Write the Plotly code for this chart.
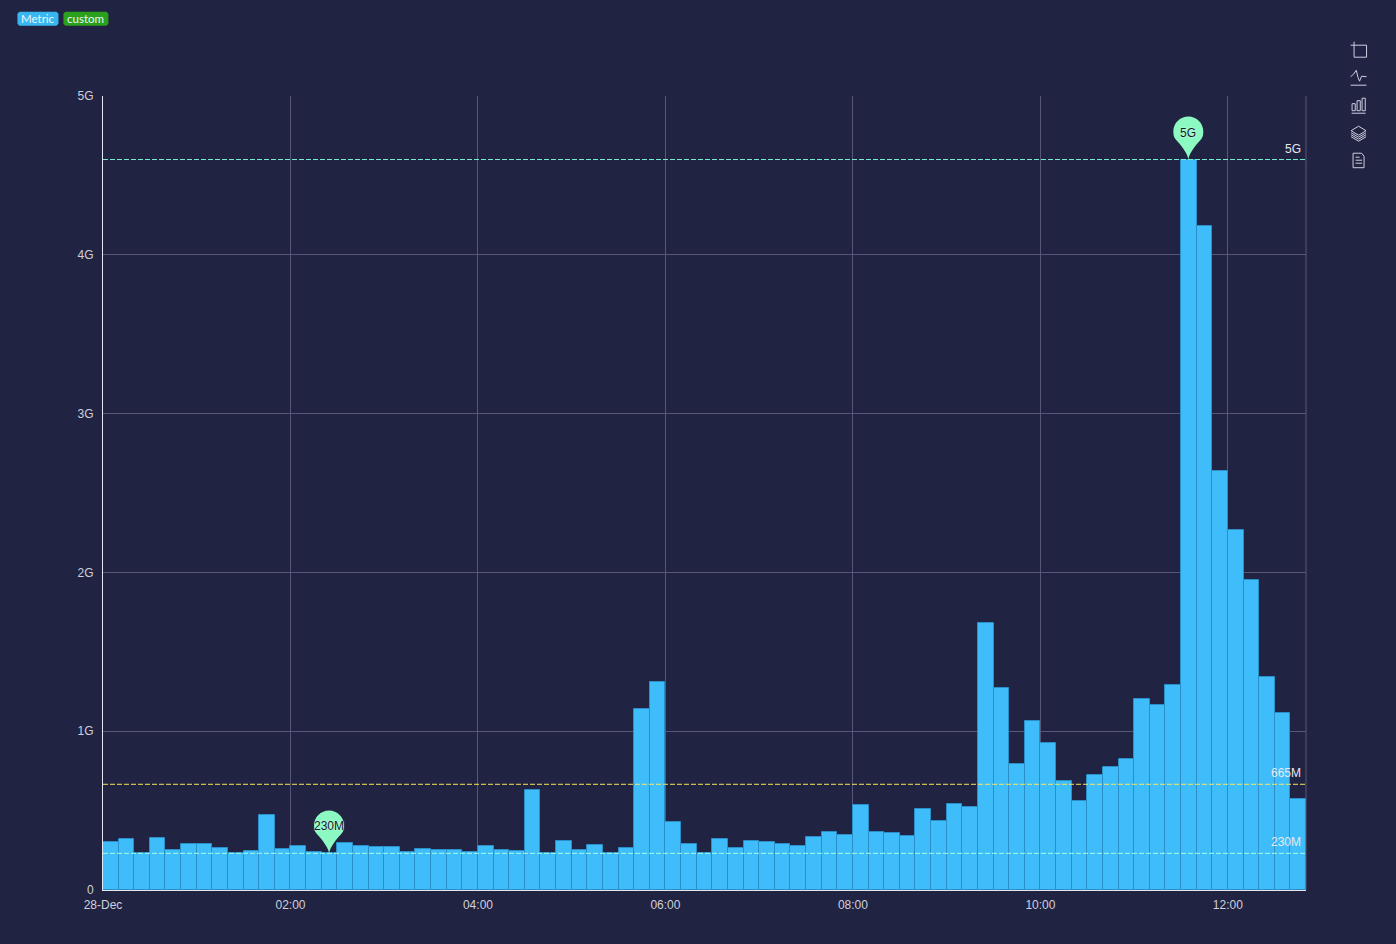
import re
import pandas as pd
import plotly.graph_objects as go

W, H = 1396, 944
L, R, T, B = 102.6, 1306.4, 96.3, 890.2

times = pd.date_range("2023-12-28 00:00", periods=77, freq="10min")
values_m = [
    300, 319, 230.5, 330, 252, 292, 290, 262, 230.5, 248, 470, 258, 275, 239, 230, 298, 275, 271, 271, 242,
    261, 252, 252, 237, 275, 250, 244, 628, 230.5, 311, 254, 283, 235, 262, 1140, 1310, 431, 290, 230.5, 319,
    262, 311, 300, 292, 275, 336, 363, 344, 534, 365, 359, 340, 512, 437, 541, 521, 1679, 1269, 795, 1067,
    927, 685, 562, 726, 776, 826, 1204, 1166, 1292, 4600, 4182, 2638, 2267, 1952, 1340, 1113, 570,
]
y_tick_vals = [0, 1000, 2000, 3000, 4000, 5000]
y_tick_text = ["0", "1G", "2G", "3G", "4G", "5G"]
x_tick_vals = ["2023-12-28 00:00", "2023-12-28 02:00", "2023-12-28 04:00", "2023-12-28 06:00",
               "2023-12-28 08:00", "2023-12-28 10:00", "2023-12-28 12:00"]
x_tick_text = ["28-Dec", "02:00", "04:00", "06:00", "08:00", "10:00", "12:00"]
ref_values = [4600, 665.7, 231]
ref_labels = ["5G", "665M", "230M"]
ref_colors = ["#72f2d2", "#f6e65c", "#a6ffdc"]
tags = ["Metric", "custom"]

BG = "#212342"
GRID = "#56577a"
TEXT = "#cfd0dc"
FONT = "Liberation Sans, Arial, sans-serif"
PIN = "#8cf9c2"
ICON = "#cdcee0"


def px(path):
    """Pixel path (M/L/Z with x y pairs) to paper coordinates."""
    out, is_x = [], True
    for tok in re.findall(r"[MLZ]|-?\d+\.?\d*", path):
        if tok in "MLZ":
            out.append(tok)
            continue
        v = float(tok)
        out.append(f"{(v - L) / (R - L):.5f}" if is_x else f"{(B - v) / (B - T):.5f}")
        is_x = not is_x
    return " ".join(out)


def paper_shape(path, color=ICON, fill=None, width=1):
    s = dict(type="path", xref="paper", yref="paper", path=px(path), layer="above",
             line=dict(color=color, width=width))
    if fill:
        s["fillcolor"] = fill
    return s


PIN_PATH = ("M -0.5 0 C 0.5 7 7.5 15 12.5 20.5 C 13.9 22.5 14.5 25 14.5 28 C 14.5 36.3 7.8 43 -0.5 43 "
            "C -8.8 43 -15.5 36.3 -15.5 28 C -15.5 25 -14.9 22.5 -13.5 20.5 C -8.5 15 -1.5 7 -0.5 0 Z")

fig = go.Figure(go.Bar(
    x=times, y=values_m, width=600000, offset=0,
    marker=dict(color="#3fbdfb", line=dict(color="#2a8fc9", width=1)),
    hoverinfo="skip",
))

shapes = [
    dict(type="line", xref="paper", yref="paper", x0=1, x1=1, y0=0, y1=1, layer="below",
         line=dict(color=GRID, width=1)),
]
annotations = []

for v, lab, col in zip(ref_values, ref_labels, ref_colors):
    shapes.append(dict(type="line", xref="paper", yref="y", x0=0, x1=1, y0=v, y1=v, layer="above",
                       line=dict(color=col, width=1, dash="5px,2px")))
    annotations.append(dict(xref="paper", yref="y", x=(1303 - L) / (R - L), y=v, text=lab, showarrow=False,
                            xanchor="right", yanchor="bottom", yshift=2,
                            font=dict(family=FONT, size=12, color="#e8e8f0")))

imax = values_m.index(max(values_m))
imin = values_m.index(min(values_m))
for i, shift in ((imax, 27), (imin, 27)):
    xc = times[i] + pd.Timedelta(minutes=5)
    shapes.append(dict(type="path", xref="x", yref="y", xsizemode="pixel", ysizemode="pixel",
                       xanchor=xc, yanchor=values_m[i], path=PIN_PATH, layer="above",
                       fillcolor=PIN, line=dict(width=0)))
    annotations.append(dict(x=xc, y=values_m[i], xref="x", yref="y", showarrow=False, yshift=shift,
                            xshift=-0.5,
                            text=ref_labels[0] if i == imax else ref_labels[2],
                            font=dict(family=FONT, size=12, color="#12182a",
                                      shadow="0 0 2px #e4fff0")))

# legend tags
for (x0, x1), col, label, tx in zip([(17, 58), (63, 108)], ["#38b6f1", "#2aa01c"], tags, [37.5, 85.5]):
    shapes.append(paper_shape(
        f"M {x0+2} 12 L {x1-2} 12 L {x1} 14 L {x1} 24 L {x1-2} 26 L {x0+2} 26 L {x0} 24 L {x0} 14 Z",
        color=col, fill=col, width=0))
    annotations.append(dict(xref="paper", yref="paper", x=(tx - L) / (R - L), y=(B - 18.5) / (B - T),
                            xanchor="center", yanchor="middle",
                            text=label, showarrow=False,
                            font=dict(family="Lato, sans-serif", size=11.5, color="#e8f6fb")))

# toolbox icons
icon_paths = [
    "M 1351 45.5 L 1367 45.5 L 1367 57.5 L 1354.5 57.5 L 1354.5 42",
    "M 1351 77 L 1354 74.5 L 1356.7 70.5 L 1358.5 78 L 1360 81.5 L 1362 76.5 L 1367 77",
    "M 1351 85.5 L 1367 85.5",
    "M 1352.5 104 L 1355.7 104 L 1355.7 111 L 1352.5 111 Z",
    "M 1357.5 101 L 1360.7 101 L 1360.7 111 L 1357.5 111 Z",
    "M 1362.5 98.5 L 1365.7 98.5 L 1365.7 111 L 1362.5 111 Z",
    "M 1352 113.5 L 1366 113.5",
    "M 1359 126.5 L 1366.5 131 L 1359 135.5 L 1351.5 131 Z",
    "M 1351.5 133 L 1359 137.5 L 1366.5 133",
    "M 1351.5 135 L 1359 139.5 L 1366.5 135",
    "M 1351.5 137 L 1359 141.5 L 1366.5 137",
    "M 1353.5 153.5 L 1362 153.5 L 1364.5 156.5 L 1364.5 168 L 1353.5 168 Z",
    "M 1356 157.5 L 1360 157.5",
    "M 1356 160.5 L 1362.5 160.5",
    "M 1356 163.5 L 1362.5 163.5",
]
for p in icon_paths:
    shapes.append(paper_shape(p))

fig.update_layout(
    width=W, height=H, autosize=False,
    margin=dict(l=L, r=W - R, t=T, b=H - B, pad=0),
    paper_bgcolor=BG, plot_bgcolor=BG, showlegend=False, bargap=0,
    font=dict(family=FONT, size=12, color=TEXT),
    shapes=shapes, annotations=annotations,
    xaxis=dict(type="date", range=[times[0], times[-1] + pd.Timedelta(minutes=10)],
               tickmode="array", tickvals=x_tick_vals, ticktext=x_tick_text,
               showgrid=True, gridcolor=GRID, gridwidth=1, zeroline=False,
               showline=True, linecolor="#e6e7f0", linewidth=1, ticks="", ticklen=0,
               ticklabelstandoff=4,
               tickfont=dict(family=FONT, size=12, color=TEXT), tickangle=0),
    yaxis=dict(range=[0, 5000], tickmode="array", tickvals=y_tick_vals, ticktext=y_tick_text,
               showgrid=True, gridcolor=GRID, gridwidth=1, zeroline=False,
               showline=True, linecolor="#e6e7f0", linewidth=1, ticks="", ticklen=0,
               ticklabelstandoff=6,
               tickfont=dict(family=FONT, size=12, color=TEXT)),
)

fig.write_html("out.html", config=dict(displayModeBar=False),
               post_script="document.body.style.margin='0';document.documentElement.style.overflow='hidden';")
